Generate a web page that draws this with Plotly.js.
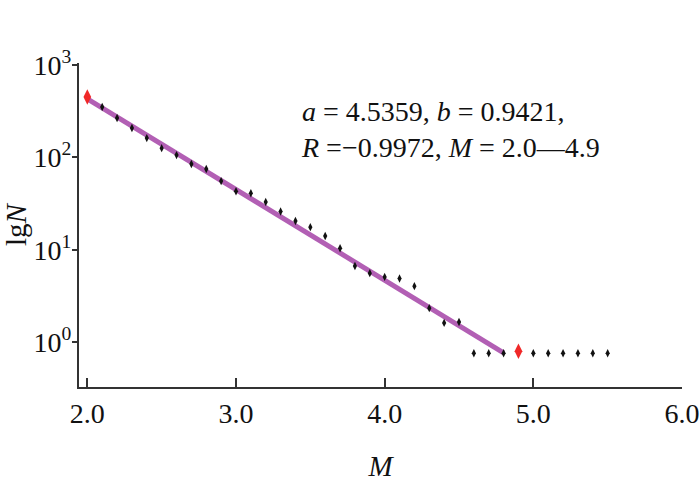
<!DOCTYPE html>
<html>
<head>
<meta charset="utf-8">
<script src="https://cdn.plot.ly/plotly-3.0.1.min.js"></script>
<style>html,body{margin:0;padding:0;background:#fff;}#chart{width:700px;height:494px;}</style>
</head>
<body>
<div id="chart"></div>
<script>
const magBlack = [2.1, 2.2, 2.3, 2.4, 2.5, 2.6, 2.7, 2.8, 2.9, 3.0, 3.1, 3.2, 3.3, 3.4, 3.5, 3.6, 3.7, 3.8, 3.9, 4.0, 4.1, 4.2, 4.3, 4.4, 4.5, 4.6, 4.7, 4.8, 5.0, 5.1, 5.2, 5.3, 5.4, 5.5];
const countBlack = [351, 267, 208, 162, 126, 106, 85, 75, 55.5, 43, 41, 33, 26, 20.5, 17.6, 14.1, 10.4, 6.7, 5.6, 5.1, 4.9, 4.05, 2.34, 1.62, 1.66, 0.76, 0.76, 0.76, 0.76, 0.76, 0.76, 0.76, 0.76, 0.76];
// Fitting range end points (red)
const magRed = [2.0, 4.9];
const countRed = [451, 0.80];
// Fitted G-R line
const magFit = [2.0, 4.8];
const countFit = [430, 0.77];
// Axis ticks
const xTicks = [2, 3, 4, 5, 6];
const xTickText = ["2.0", "3.0", "4.0", "5.0", "6.0"];
const yTicks = [1, 10, 100, 1000];
const yTickText = ["10<sup>0</sup>", "10<sup>1</sup>", "10<sup>2</sup>", "10<sup>3</sup>"];
const fitText = "<i>a</i> = 4.5359, <i>b</i> = 0.9421,<br><i>R</i> =\u22120.9972, <i>M</i> = 2.0\u20144.9";

const FONT = "Liberation Serif, Times New Roman, serif";

const traces = [
  {
    x: magFit, y: countFit, type: "scatter", mode: "lines",
    line: {color: "#b25fb4", width: 5},
    hoverinfo: "skip", showlegend: false
  },
  {
    x: magBlack, y: countBlack, type: "scatter", mode: "markers",
    marker: {symbol: "diamond-tall", size: 6, color: "#111111", line: {width: 0}},
    showlegend: false
  },
  {
    x: magRed, y: countRed, type: "scatter", mode: "markers",
    marker: {symbol: "diamond-tall", size: 11, color: "#f02828", line: {width: 0}},
    showlegend: false
  }
];

const layout = {
  width: 700, height: 494,
  paper_bgcolor: "#ffffff", plot_bgcolor: "#ffffff",
  margin: {l: 79, r: 18, t: 63, b: 107},
  showlegend: false,
  font: {family: FONT, color: "#111111", size: 24},
  xaxis: {
    range: [1.944, 6.0], showgrid: false, zeroline: false,
    showline: true, linecolor: "#333333", linewidth: 2,
    ticks: "inside", ticklen: 9, tickwidth: 2, tickcolor: "#333333",
    tickvals: xTicks, ticktext: xTickText,
    tickfont: {family: FONT, size: 28, color: "#111111"},
    title: {text: "<i>M</i>", font: {family: FONT, size: 29, color: "#111111"}, standoff: 28},
    automargin: false
  },
  yaxis: {
    type: "log", range: [-0.484, 3.022], showgrid: false, zeroline: false,
    showline: true, linecolor: "#333333", linewidth: 2,
    ticks: "outside", ticklen: 5, tickwidth: 2, tickcolor: "#333333",
    tickvals: yTicks, ticktext: yTickText, ticklabelstandoff: -5,
    tickfont: {family: FONT, size: 28, color: "#111111"},
    title: {text: "lg<i>N</i>", font: {family: FONT, size: 29, color: "#111111"}, standoff: 4},
    automargin: false
  },
  annotations: [
    {
      xref: "paper", yref: "paper", x: 0.365, y: 0.905,
      xanchor: "left", yanchor: "top", align: "left", showarrow: false,
      text: fitText,
      font: {family: FONT, size: 28, color: "#111111"}
    }
  ]
};

Plotly.newPlot("chart", traces, layout, {displayModeBar: false, staticPlot: true});
</script>
</body>
</html>
